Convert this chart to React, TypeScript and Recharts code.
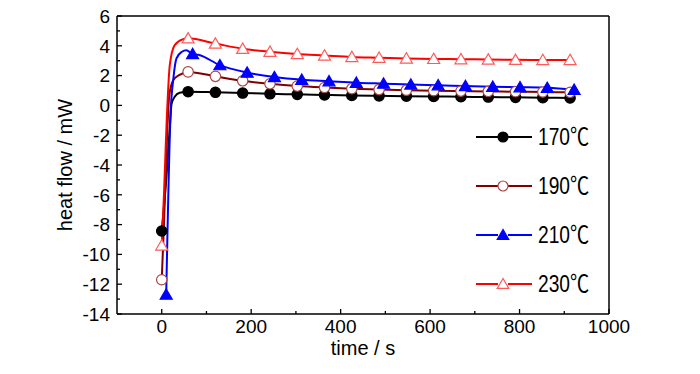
import React from "react";
import { Legend, Line, LineChart, ReferenceLine, XAxis, YAxis } from "recharts";

const font = "'Liberation Sans', Arial, sans-serif";
const legendFont = "'Liberation Sans', 'Noto Sans CJK SC', sans-serif";

// marker positions (time in s, heat flow in mW)
const marks170 = [
  [0, -8.43], [59, 0.92], [120, 0.88], [181, 0.83], [242, 0.78], [303, 0.74], [364, 0.7], [425, 0.67],
  [486, 0.64], [547, 0.62], [608, 0.6], [669, 0.58], [730, 0.56], [791, 0.54], [852, 0.52], [913, 0.5],
];
const marks190 = [
  [0, -11.7], [59, 2.25], [120, 1.95], [181, 1.65], [242, 1.45], [303, 1.3], [364, 1.2], [425, 1.12],
  [486, 1.06], [547, 1.02], [608, 0.99], [669, 0.96], [730, 0.94], [791, 0.92], [852, 0.9], [913, 0.88],
];
const marks210 = [
  [10, -12.7], [69, 3.45], [130, 2.7], [191, 2.2], [252, 1.9], [313, 1.72], [374, 1.62], [435, 1.52],
  [496, 1.46], [557, 1.4], [618, 1.35], [679, 1.3], [740, 1.25], [801, 1.22], [862, 1.18], [922, 1.05],
];
const marks230 = [
  [0, -9.4], [59, 4.5], [120, 4.15], [181, 3.8], [242, 3.6], [303, 3.45], [364, 3.35], [425, 3.25],
  [486, 3.2], [547, 3.15], [608, 3.12], [669, 3.1], [730, 3.08], [791, 3.06], [852, 3.05], [913, 3.05],
];

const rise170 = [[10, -5], [18, -1.5], [22, 0.1], [29, 0.58], [40, 0.85]];
const rise190 = [[5, -8], [12, -2], [17, 0.7], [26, 1.7], [40, 2.05]];
const rise210 = [[20, -0.4], [26, 1.8], [33, 3.15], [45, 3.6], [55, 3.7], [82, 3.4]];
const rise230 = [[5, -6], [11, -1.1], [18, 2.7], [29, 4.05], [48, 4.45]];

const labels = ["170℃", "190℃", "210℃", "230℃"];
const xTicks = [0, 100, 200, 300, 400, 500, 600, 700, 800, 900, 1000];
const yTicks = [-14, -13, -12, -11, -10, -9, -8, -7, -6, -5, -4, -3, -2, -1, 0, 1, 2, 3, 4, 5, 6];

const toRows = (pts: number[][]) => pts.map(([t, v]) => ({ t, v }));
const curve = (marks: number[][], rise: number[][]) =>
  toRows([...marks, ...rise].sort((a, b) => a[0] - b[0]));

const series = [
  { name: labels[0], marks: toRows(marks170), line: curve(marks170, rise170), color: "#000000", kind: "dot", mark: "#000000", fill: "#000000" },
  { name: labels[1], marks: toRows(marks190), line: curve(marks190, rise190), color: "#800000", kind: "dot", mark: "#a84848", fill: "#ffffff" },
  { name: labels[2], marks: toRows(marks210), line: curve(marks210, rise210), color: "#0000ff", kind: "tri", mark: "#0000ff", fill: "#0000ff" },
  { name: labels[3], marks: toRows(marks230), line: curve(marks230, rise230), color: "#ff0000", kind: "tri", mark: "#ff5a5a", fill: "#ffffff" },
];

function Marker({ kind, cx, cy, stroke, fill, size = 5 }: any) {
  if (kind === "dot") {
    return <circle cx={cx} cy={cy} r={size} stroke={stroke} strokeWidth={1.2} fill={fill} />;
  }
  const h = size * 1.1;
  const pts = `${cx},${cy - h} ${cx - h * 1.05},${cy + h * 0.8} ${cx + h * 1.05},${cy + h * 0.8}`;
  return <polygon points={pts} stroke={stroke} strokeWidth={1.2} fill={fill} />;
}

function YTick({ x, y, payload }: any) {
  const v = payload.value;
  const major = v % 2 === 0;
  const ax = x + 7;
  return (
    <g>
      <line x1={ax} x2={ax + (major ? 5 : 3)} y1={y} y2={y} stroke="#000" strokeWidth={1.3} />
      {major && (
        <text x={x} y={y} dy="0.36em" textAnchor="end" fontSize={19} fontFamily={font} fill="#000">
          {v}
        </text>
      )}
    </g>
  );
}

function XTick({ x, y, payload }: any) {
  const v = payload.value;
  const major = v % 200 === 0;
  const ay = y - 5;
  return (
    <g>
      <line x1={x} x2={x} y1={ay} y2={ay - (major ? 5 : 3)} stroke="#000" strokeWidth={1.3} />
      {major && (
        <text x={x} y={y} dy="0.74em" textAnchor="middle" fontSize={19} fontFamily={font} fill="#000">
          {v}
        </text>
      )}
    </g>
  );
}

function LegendBox() {
  return (
    <div style={{ fontFamily: legendFont, fontSize: 24, color: "#000", lineHeight: 1 }}>
      {series.map((s) => (
        <div key={s.name} style={{ height: 49, display: "flex", alignItems: "center" }}>
          <svg width={58} height={20} style={{ flex: "none" }}>
            <line x1={0} x2={22} y1={10} y2={10} stroke={s.color} strokeWidth={2} />
            <line x1={32} x2={56} y1={10} y2={10} stroke={s.color} strokeWidth={2} />
            <Marker kind={s.kind} cx={27} cy={10} stroke={s.mark} fill={s.fill} />
          </svg>
          <span
            style={{
              marginLeft: 4,
              display: "inline-block",
              whiteSpace: "nowrap",
              transform: "scaleX(0.8)",
              transformOrigin: "left center",
            }}
          >
            {s.name}
          </span>
        </div>
      ))}
    </div>
  );
}

export default function App() {
  return (
    <div style={{ position: "absolute", left: 0, top: 0, width: 700, height: 374, background: "#fff" }}>
      <LineChart width={700} height={374} margin={{ top: 16, right: 91, left: 57, bottom: 10 }}>
        <XAxis
          type="number"
          dataKey="t"
          domain={[-100, 1000]}
          ticks={xTicks}
          interval={0}
          tickSize={0}
          tickMargin={5}
          height={50}
          tick={(p: any) => <XTick {...p} />}
          axisLine={{ stroke: "#000", strokeWidth: 1.5 }}
          allowDataOverflow
          label={{ value: "time / s", position: "insideBottom", offset: 9, fontSize: 20, fontFamily: font, fill: "#000" }}
        />
        <YAxis
          type="number"
          domain={[-14, 6]}
          ticks={yTicks}
          interval={0}
          tickSize={0}
          tickMargin={7}
          width={60}
          tick={(p: any) => <YTick {...p} />}
          axisLine={{ stroke: "#000", strokeWidth: 1.5 }}
          allowDataOverflow
          label={{
            value: "heat flow / mW",
            angle: -90,
            position: "insideLeft",
            dx: 3,
            fontSize: 20,
            fontFamily: font,
            fill: "#000",
            style: { textAnchor: "middle" },
          }}
        />
        <ReferenceLine y={6} stroke="#000" strokeWidth={1.5} />
        <ReferenceLine x={1000} stroke="#000" strokeWidth={1.5} />
        {series.flatMap((s) => [
          <Line
            key={s.name + "-line"}
            data={s.line}
            dataKey="v"
            type="monotone"
            stroke={s.color}
            strokeWidth={2}
            dot={false}
            activeDot={false}
            isAnimationActive={false}
          />,
          <Line
            key={s.name + "-marks"}
            data={s.marks}
            dataKey="v"
            stroke="none"
            dot={(p: any) => (
              <Marker key={p.index} kind={s.kind} cx={p.cx} cy={p.cy} stroke={s.mark} fill={s.fill} size={5.2} />
            )}
            activeDot={false}
            isAnimationActive={false}
          />,
        ])}
        <Legend
          layout="horizontal"
          verticalAlign="middle"
          align="center"
          content={() => <LegendBox />}
          wrapperStyle={{ left: 476, top: 112, width: 140 }}
        />
      </LineChart>
    </div>
  );
}
